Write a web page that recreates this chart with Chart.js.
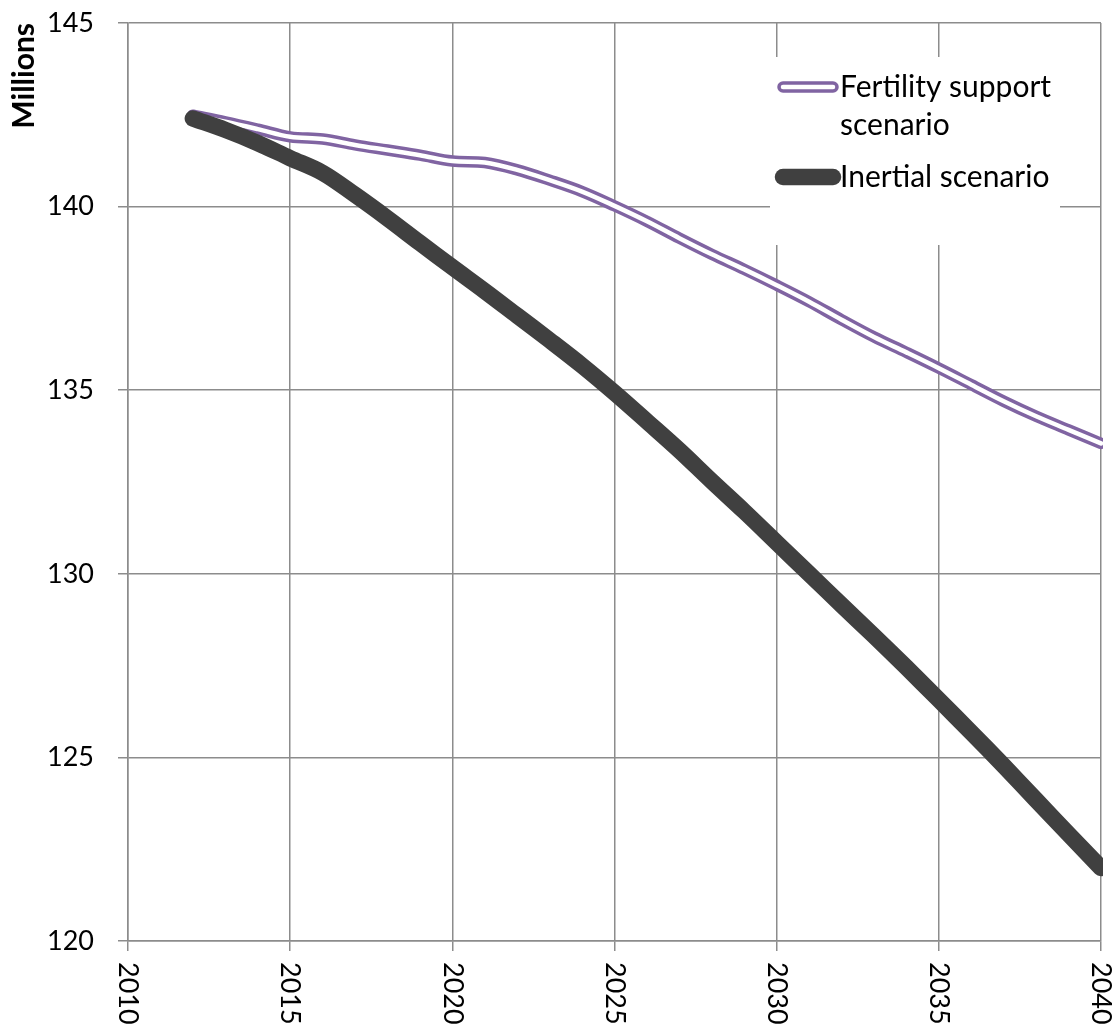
<!DOCTYPE html>
<html>
<head>
<meta charset="utf-8">
<title>Population scenarios</title>
<script src="https://cdn.jsdelivr.net/npm/chart.js@4.4.1/dist/chart.umd.min.js"></script>
<style>
  html, body { margin: 0; padding: 0; background: #fff; }
</style>
</head>
<body>
<canvas id="popChart" width="1116" height="1025"></canvas>
<script>
// values, millions
const years = [2012, 2013, 2014, 2015, 2016, 2017, 2018, 2019, 2020, 2021,
               2022, 2023, 2024, 2025, 2026, 2027, 2028, 2029, 2030, 2031,
               2032, 2033, 2034, 2035, 2036, 2037, 2038, 2039, 2040];
const fertilitySupport = [142.49, 142.31, 142.11, 141.90, 141.84, 141.68, 141.54, 141.40, 141.24, 141.20,
                          141.00, 140.72, 140.41, 140.02, 139.60, 139.14, 138.70, 138.29, 137.86, 137.41,
                          136.92, 136.45, 136.03, 135.60, 135.15, 134.70, 134.29, 133.92, 133.55];
const inertial = [142.40, 142.09, 141.73, 141.32, 140.92, 140.32, 139.68, 139.01, 138.35, 137.70,
                  137.03, 136.36, 135.67, 134.93, 134.15, 133.36, 132.52, 131.70, 130.85, 130.00,
                  129.15, 128.31, 127.45, 126.57, 125.68, 124.77, 123.84, 122.91, 121.99];
const xTicks = [2010, 2015, 2020, 2025, 2030, 2035, 2040];
const yTicks = [120, 125, 130, 135, 140, 145];
const seriesLabels = ['Fertility support scenario', 'Inertial scenario'];
const yTitle = 'Millions';

const FONT = 'Lato';
const GRID = '#8c8c8c';
const PURPLE = '#8064a2';
const DARK = '#404040';

Chart.defaults.font.family = FONT;
Chart.defaults.color = '#000';

function toPoints(vals) {
    return years.map((yr, i) => ({ x: yr, y: vals[i] }));
}

// x labels run top to bottom, Chart.js only rotates the other way
const xLabelPlugin = {
    id: 'xLabels',
    afterDraw(chart) {
        const ctx = chart.ctx;
        const x = chart.scales.x;
        ctx.save();
        ctx.font = '27px ' + FONT;
        ctx.fillStyle = '#000';
        ctx.textAlign = 'left';
        ctx.textBaseline = 'middle';
        xTicks.forEach(v => {
            ctx.save();
            ctx.translate(x.getPixelForValue(v), x.top + 21);
            ctx.rotate(Math.PI / 2);
            ctx.fillText(String(v), 0, 0);
            ctx.restore();
        });
        ctx.restore();
    }
};

function wrapText(ctx, text, maxWidth) {
    const words = text.split(' ');
    const lines = [];
    let line = '';
    words.forEach(w => {
        const test = line ? line + ' ' + w : w;
        if (line && ctx.measureText(test).width > maxWidth) {
            lines.push(line);
            line = w;
        } else {
            line = test;
        }
    });
    lines.push(line);
    return lines;
}

// legend boxed inside the plot, with wrapped labels
const legendPlugin = {
    id: 'boxLegend',
    afterDatasetsDraw(chart) {
        const ctx = chart.ctx;
        const area = chart.chartArea;
        const left = area.right - 331;
        const top = area.top + 34;
        ctx.save();
        ctx.fillStyle = '#fff';
        ctx.fillRect(left, top, 290, 188);

        ctx.font = '30px ' + FONT;
        ctx.fillStyle = '#000';
        ctx.textAlign = 'left';
        ctx.textBaseline = 'middle';
        ctx.lineCap = 'round';

        const textX = left + 70;
        let y = top + 30;
        const styles = [
            { color: PURPLE, width: 11.5, inner: 4.5 },
            { color: DARK, width: 16.5, inner: 0 }
        ];
        seriesLabels.forEach((lbl, i) => {
            const st = styles[i];
            ctx.beginPath();
            ctx.moveTo(left + 13, y);
            ctx.lineTo(left + 63, y);
            ctx.strokeStyle = st.color;
            ctx.lineWidth = st.width;
            ctx.stroke();
            if (st.inner) {
                ctx.beginPath();
                ctx.moveTo(left + 13, y);
                ctx.lineTo(left + 63, y);
                ctx.strokeStyle = '#fff';
                ctx.lineWidth = st.inner;
                ctx.stroke();
            }
            const lines = wrapText(ctx, lbl, 245);
            lines.forEach((ln, k) => {
                ctx.fillText(ln, textX, y + k * 38);
            });
            y += lines.length * 38 + 14;
        });
        ctx.restore();
    }
};

const ctx = document.getElementById('popChart');

const lineStyle = {
    pointRadius: 0,
    pointHoverRadius: 0,
    tension: 0.35,
    fill: false,
    borderCapStyle: 'round',
    borderJoinStyle: 'round',
    clip: { left: false, top: false, right: 2, bottom: false }
};

new Chart(ctx, {
    type: 'line',
    data: {
        datasets: [
            Object.assign({
                label: seriesLabels[0],
                data: toPoints(fertilitySupport),
                borderColor: PURPLE,
                borderWidth: 11.5,
                order: 3
            }, lineStyle),
            Object.assign({
                label: seriesLabels[0] + ' inner',
                data: toPoints(fertilitySupport),
                borderColor: '#fff',
                borderWidth: 4.5,
                order: 2
            }, lineStyle),
            Object.assign({
                label: seriesLabels[1],
                data: toPoints(inertial),
                borderColor: DARK,
                borderWidth: 16.5,
                order: 1
            }, lineStyle)
        ]
    },
    options: {
        responsive: false,
        animation: false,
        layout: {
            padding: { top: 23, right: 15, bottom: 0, left: 0 }
        },
        plugins: {
            legend: { display: false },
            tooltip: { enabled: false }
        },
        scales: {
            x: {
                type: 'linear',
                min: xTicks[0],
                max: xTicks[xTicks.length - 1],
                afterBuildTicks: scale => {
                    scale.ticks = xTicks.map(v => ({ value: v }));
                },
                afterFit: scale => { scale.height = 84; },
                ticks: { display: false },
                grid: { color: GRID, lineWidth: 1.5, tickLength: 10, tickColor: GRID },
                border: { color: GRID, width: 1.5 }
            },
            y: {
                min: yTicks[0],
                max: yTicks[yTicks.length - 1],
                afterBuildTicks: scale => {
                    scale.ticks = yTicks.map(v => ({ value: v }));
                },
                afterFit: scale => {
                    scale.width = 128;
                    scale.paddingTop = 0;
                    scale.paddingBottom = 0;
                },
                ticks: {
                    padding: 24,
                    font: { size: 27 },
                    color: '#000',
                    callback: v => String(v)
                },
                grid: { color: GRID, lineWidth: 1.5, tickLength: 10, tickColor: GRID },
                border: { color: GRID, width: 1.5 },
                title: {
                    display: true,
                    text: yTitle,
                    align: 'end',
                    color: '#000',
                    font: { size: 30, weight: 'bold' },
                    padding: { top: 6, bottom: 0 }
                }
            }
        }
    },
    plugins: [xLabelPlugin, legendPlugin]
});
</script>
</body>
</html>
